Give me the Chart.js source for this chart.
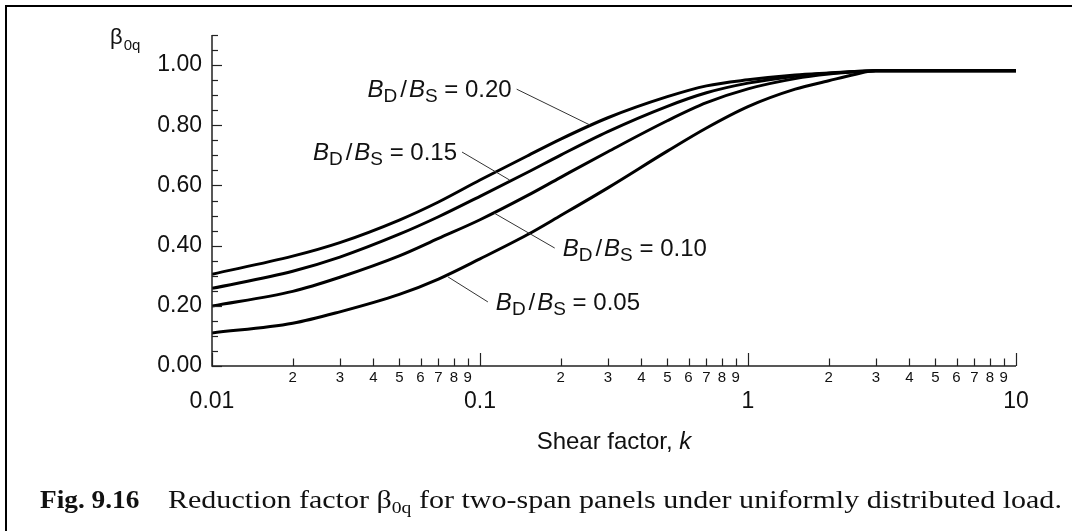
<!DOCTYPE html>
<html>
<head>
<meta charset="utf-8">
<script src="https://cdn.jsdelivr.net/npm/chart.js@4.4.0/dist/chart.umd.min.js"></script>
<style>
  html, body { margin: 0; padding: 0; background: #fff; overflow: hidden; }
  #wrap { position: relative; width: 1072px; height: 531px; overflow: hidden; }
  #chart { position: absolute; left: 0; top: 0; }
  .cap { position: absolute; top: 487px; line-height: 26px; font-family: "Liberation Serif", "Times New Roman", serif; font-size: 26px; white-space: nowrap; color: #111; transform-origin: 0 0; }
  #capFig { left: 40px; font-weight: bold; transform: scaleX(1.05); }
  #capText { left: 168px; transform: scaleX(1.155); }
  .cap sub { font-size: 17px; vertical-align: -5px; line-height: 0; }
</style>
</head>
<body>
<div id="wrap">
  <canvas id="chart" width="1072" height="531"></canvas>
  <div class="cap" id="capFig">Fig. 9.16</div>
  <div class="cap" id="capText">Reduction factor β<sub>0q</sub> for two-span panels under uniformly distributed load.</div>
</div>
<script>
// values (shear factor k on a log axis)
const kValues = [0.01, 0.02, 0.03, 0.05, 0.07, 0.1, 0.15, 0.2, 0.3, 0.5, 0.7, 1, 1.5, 2, 2.5, 3, 10];
const beta020 = [0.305, 0.365, 0.410, 0.485, 0.545, 0.618, 0.698, 0.754, 0.825, 0.895, 0.931, 0.951, 0.967, 0.974, 0.979, 0.981, 0.981];
const beta015 = [0.258, 0.315, 0.362, 0.438, 0.496, 0.564, 0.643, 0.701, 0.779, 0.863, 0.908, 0.940, 0.963, 0.973, 0.979, 0.981, 0.981];
const beta010 = [0.199, 0.248, 0.295, 0.366, 0.424, 0.486, 0.566, 0.627, 0.712, 0.815, 0.875, 0.921, 0.955, 0.970, 0.977, 0.981, 0.981];
const beta005 = [0.110, 0.142, 0.180, 0.238, 0.289, 0.356, 0.436, 0.500, 0.592, 0.714, 0.791, 0.862, 0.920, 0.948, 0.969, 0.981, 0.981];
const ratioLabels = ['0.20', '0.15', '0.10', '0.05'];

// leader lines: from the text end to a point on the curve (data units)
const leaderFrom = [[0.137, 0.920], [0.0857, 0.711], [0.19, 0.392], [0.107, 0.213]];
const leaderTo = [[0.257, 0.801], [0.129, 0.618], [0.113, 0.508], [0.076, 0.296]];
const labelOnRight = [false, false, true, true];

// axes
const yLabelValues = [0, 0.2, 0.4, 0.6, 0.8, 1.0];
const yTickLabels = ['0.00', '0.20', '0.40', '0.60', '0.80', '1.00'];
const yMinorStep = 0.05;
const yMax = 1.1;
const xDecades = [0.01, 0.1, 1, 10];
const xDecadeLabels = ['0.01', '0.1', '1', '10'];
const xMinorLabels = ['2', '3', '4', '5', '6', '7', '8', '9'];

const SANS = '"Liberation Sans", Arial, sans-serif';

// tick list for the log axis
const xTickList = [];
xDecades.forEach((d, i) => {
    xTickList.push({ value: d, label: ['', xDecadeLabels[i]], major: true });
    if (i < xDecades.length - 1) {
        xMinorLabels.forEach((m, j) => {
            xTickList.push({ value: d * (j + 2), label: m, major: false });
        });
    }
});

const yTickList = [];
for (let i = 0; i * yMinorStep <= yMax + 1e-9; i++) {
    yTickList.push(+(i * yMinorStep).toFixed(2));
}

function yLabelFor(v) {
    const i = yLabelValues.findIndex(x => Math.abs(x - v) < 1e-9);
    return i >= 0 ? yTickLabels[i] : '';
}

function toPoints(arr) {
    return kValues.map((k, i) => ({ x: k, y: arr[i] }));
}

function drawRatio(ctx, x, yMid, value, alignRight) {
    const parts = [
        { t: 'B', f: 'italic 24px ' + SANS, dy: 0, gap: 0 },
        { t: 'D', f: '19px ' + SANS, dy: 5, gap: 3 },
        { t: '/', f: '24px ' + SANS, dy: 0, gap: 2 },
        { t: 'B', f: 'italic 24px ' + SANS, dy: 0, gap: 0 },
        { t: 'S', f: '19px ' + SANS, dy: 5, gap: 0 },
        { t: ' = ' + value, f: '24px ' + SANS, dy: 0, gap: 0 }
    ];
    let w = 0;
    parts.forEach(p => { ctx.font = p.f; p.w = ctx.measureText(p.t).width + p.gap; w += p.w; });
    let cx = alignRight ? x : x - w;
    const base = yMid + 8;
    ctx.textAlign = 'left';
    ctx.textBaseline = 'alphabetic';
    parts.forEach(p => {
        ctx.font = p.f;
        ctx.fillText(p.t, cx, base + p.dy);
        cx += p.w;
    });
}

const decorPlugin = {
    id: 'decor',
    beforeDraw(chart) {
        // page frame (left and top edges only)
        const ctx = chart.ctx;
        ctx.save();
        ctx.strokeStyle = '#000';
        ctx.lineWidth = 2;
        ctx.beginPath();
        ctx.moveTo(6, chart.height);
        ctx.lineTo(6, 6);
        ctx.lineTo(chart.width, 6);
        ctx.stroke();
        ctx.restore();
    },
    afterDraw(chart) {
        const ctx = chart.ctx;
        const xs = chart.scales.x;
        const ys = chart.scales.y;
        const area = chart.chartArea;
        ctx.save();
        ctx.strokeStyle = '#222';
        ctx.fillStyle = '#111';

        // axis lines
        ctx.lineWidth = 1.5;
        ctx.beginPath();
        ctx.moveTo(area.left, area.top);
        ctx.lineTo(area.left, area.bottom);
        ctx.lineTo(area.right, area.bottom);
        ctx.stroke();

        // inward tick marks
        ctx.lineWidth = 1.2;
        xTickList.forEach(t => {
            const px = Math.round(xs.getPixelForValue(t.value)) + 0.5;
            ctx.beginPath();
            ctx.moveTo(px, area.bottom);
            ctx.lineTo(px, area.bottom - (t.major ? 13 : 7.5));
            ctx.stroke();
        });
        yTickList.forEach(v => {
            const py = Math.round(ys.getPixelForValue(v)) + 0.5;
            ctx.beginPath();
            ctx.moveTo(area.left, py);
            ctx.lineTo(area.left + (yLabelFor(v) ? 10 : 6), py);
            ctx.stroke();
        });

        // y title: beta_0q
        ctx.textAlign = 'left';
        ctx.textBaseline = 'alphabetic';
        ctx.font = '22px ' + SANS;
        ctx.fillText('β', area.left - 102, area.top + 9);
        const bw = ctx.measureText('β').width;
        ctx.font = '15px ' + SANS;
        ctx.fillText('0q', area.left - 102 + bw + 1, area.top + 15);

        // x title
        const t1 = 'Shear factor, ';
        ctx.font = '24px ' + SANS;
        const w1 = ctx.measureText(t1).width;
        ctx.font = 'italic 24px ' + SANS;
        const w2 = ctx.measureText('k').width;
        const cx = (xs.getPixelForValue(0.1) + xs.getPixelForValue(1)) / 2 - (w1 + w2) / 2;
        ctx.font = '24px ' + SANS;
        ctx.fillText(t1, cx, area.bottom + 83);
        ctx.font = 'italic 24px ' + SANS;
        ctx.fillText('k', cx + w1, area.bottom + 83);

        // ratio labels with leader lines
        ctx.strokeStyle = '#333';
        ctx.lineWidth = 1;
        ratioLabels.forEach((lab, i) => {
            const fx = xs.getPixelForValue(leaderFrom[i][0]);
            const fy = ys.getPixelForValue(leaderFrom[i][1]);
            const tx = xs.getPixelForValue(leaderTo[i][0]);
            const ty = ys.getPixelForValue(leaderTo[i][1]);
            ctx.beginPath();
            ctx.moveTo(fx, fy);
            ctx.lineTo(tx, ty);
            ctx.stroke();
            ctx.fillStyle = '#111';
            if (labelOnRight[i]) {
                drawRatio(ctx, fx + 8, fy, lab, true);
            } else {
                drawRatio(ctx, fx - 5, fy, lab, false);
            }
        });
        ctx.restore();
    }
};

const allSeries = [beta020, beta015, beta010, beta005];

const chart = new Chart(document.getElementById('chart').getContext('2d'), {
    type: 'line',
    data: {
        datasets: allSeries.map((s, i) => ({
            label: 'BD/BS = ' + ratioLabels[i],
            data: toPoints(s),
            borderColor: '#000',
            borderWidth: 3,
            pointRadius: 0,
            fill: false,
            cubicInterpolationMode: 'monotone'
        }))
    },
    options: {
        responsive: false,
        animation: false,
        devicePixelRatio: 1,
        layout: { padding: { left: 0, top: 35, right: 56, bottom: 0 } },
        plugins: {
            legend: { display: false },
            tooltip: { enabled: false }
        },
        scales: {
            x: {
                type: 'logarithmic',
                min: 0.01,
                max: 10,
                grid: { display: false, drawTicks: false },
                border: { display: false },
                afterBuildTicks: scale => {
                    scale.ticks = xTickList.map(t => ({ value: t.value }));
                },
                afterFit: scale => { scale.height = 165; },
                ticks: {
                    autoSkip: false,
                    maxRotation: 0,
                    minRotation: 0,
                    padding: 3,
                    color: '#111',
                    callback: (value, index) => xTickList[index] ? xTickList[index].label : '',
                    font: ctx => {
                        const t = xTickList[ctx.index];
                        return t && t.major
                            ? { family: SANS, size: 23, lineHeight: 0.95 }
                            : { family: SANS, size: 15, lineHeight: 1.2 };
                    }
                }
            },
            y: {
                type: 'linear',
                min: 0,
                max: yMax,
                grid: { display: false, drawTicks: false },
                border: { display: false },
                afterBuildTicks: scale => {
                    scale.ticks = yTickList.map(v => ({ value: v }));
                },
                afterFit: scale => { scale.width = 212; },
                ticks: {
                    autoSkip: false,
                    padding: 10,
                    color: '#111',
                    font: { family: SANS, size: 23 },
                    callback: value => yLabelFor(value)
                }
            }
        }
    },
    plugins: [decorPlugin]
});
</script>
</body>
</html>
